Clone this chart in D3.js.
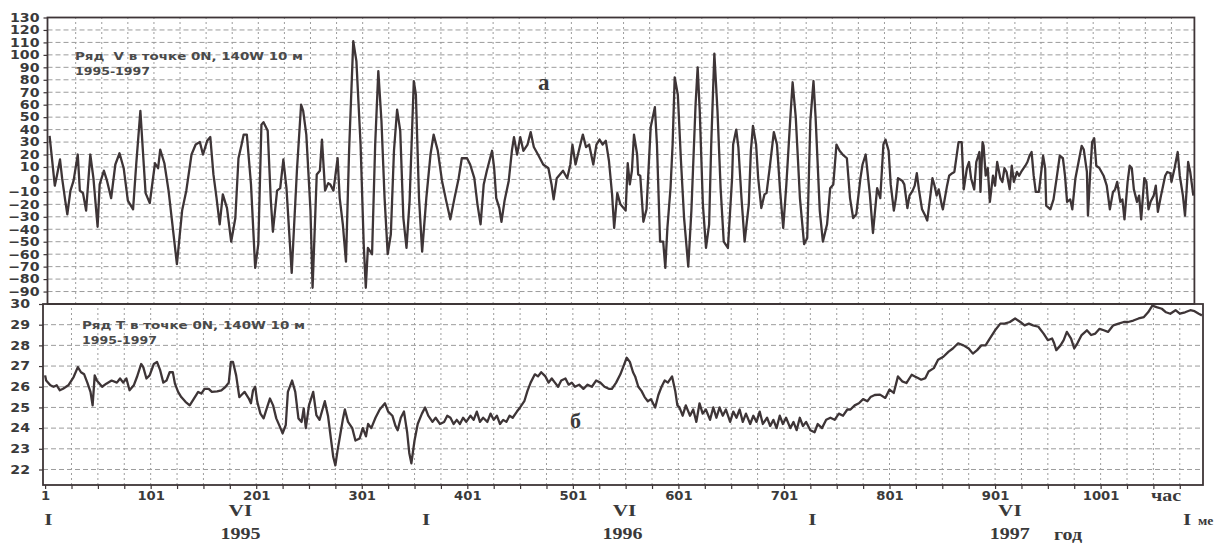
<!DOCTYPE html>
<html><head><meta charset="utf-8">
<script src="https://cdn.jsdelivr.net/npm/d3@7"></script>
<style>body{margin:0;background:#fff;} svg{display:block;} text{white-space:pre;}</style>
</head><body>
<svg id="c" width="1214" height="556"></svg>
<script>
// ---- data: [day index, value] ----
const vPoints = [[1,35],[6,-5],[8,3],[11,16],[13,1],[16,-17],[18,-28],[21,-9],[24,-1],[28,20],[30,-9],[33,-11],[36,-25],[40,20],[43,1],[47,-38],[49,-4],[53,7],[56,-1],[60,-15],[64,12],[68,21],[72,9],[76,-17],[81,-24],[84,12],[88,55],[91,15],[93,-11],[97,-19],[102,13],[105,9],[107,24],[111,13],[115,-9],[118,-31],[123,-68],[128,-25],[132,-9],[137,20],[141,28],[145,30],[148,20],[152,31],[155,34],[158,4],[161,-15],[164,-36],[167,-12],[171,-23],[175,-50],[179,-31],[182,17],[185,28],[187,36],[190,36],[194,-4],[198,-71],[201,-52],[204,44],[206,46],[210,39],[213,-17],[215,-42],[219,-9],[222,-7],[225,16],[228,-7],[233,-75],[238,7],[242,60],[244,55],[247,36],[251,-25],[253,-87],[257,4],[260,7],[262,32],[265,-9],[268,-3],
[270,-4],[273,-9],[277,17],[279,-15],[282,-36],[285,-66],[288,23],[292,111],[295,95],[299,28],[302,-52],[304,-87],[306,-55],[310,-60],[313,28],[316,87],[319,47],[322,-15],[325,-60],[328,-44],[331,23],[334,56],[337,39],[340,-31],[343,-55],[346,-17],[350,79],[352,68],[355,-15],[358,-58],[362,-15],[366,20],[369,36],[373,23],[377,-1],[381,-17],[385,-32],[389,-15],[393,1],[396,17],[401,17],[404,12],[408,1],[411,-20],[414,-36],[417,-4],[420,7],[425,23],[427,9],[429,-15],[432,-23],[434,-34],[437,-17],[441,-1],[444,23],[446,34],[449,20],[452,34],[455,23],[459,28],[462,38],[465,26],[469,20],[474,12],[479,9],[482,-4],[484,-16],[487,1],[490,4],[493,7],[497,1],[500,12],[502,28],[505,12],[509,26],[512,36],[515,26],[518,28],[522,12],[525,28],[528,32],[531,28],[534,31],[537,15],[540,-12],[542,-39],[545,-11],[548,-20],
[551,-23],[553,-25],[555,13],[557,-4],[559,7],[561,36],[564,20],[565,4],[567,3],[570,-34],[573,-24],[577,42],[581,58],[583,28],[586,-50],[589,-50],[591,-71],[593,-39],[596,-7],[598,28],[600,82],[603,68],[606,15],[609,-31],[613,-70],[616,-25],[620,60],[622,90],[624,55],[627,-20],[630,-55],[633,-36],[635,28],[638,101],[641,55],[644,-7],[647,-50],[651,-55],[655,1],[656,28],[659,40],[661,26],[664,-15],[667,-50],[671,-20],[673,23],[675,43],[678,28],[680,1],[683,-23],[686,-12],[688,-11],[691,9],[695,38],[698,28],[701,-9],[704,-39],[707,-4],[711,52],[713,78],[716,50],[720,-15],[724,-52],[727,-47],[730,47],[733,79],[735,50],[739,-25],[742,-50],[746,-36],[749,-7],[752,-4],[755,28],[758,23],[761,20],[765,17],[768,-15],[771,-31],[774,-28],[778,1],[780,12],[783,20],[787,-12],[790,-43],[794,-7],[797,-15],[800,28],[802,32],[805,23],[807,-4],[810,-25],[812,-15],[814,1],[818,-1],[820,-4],[823,-23],
[825,-13],[828,-9],[830,-5],[832,5],[834,-8],[837,-24],[840,-29],[842,-33],[845,-13],[847,1],[849,-5],[851,-13],[853,-8],[856,-21],[857,-24],[861,-5],[863,3],[866,5],[868,6],[872,30],[875,30],[877,-8],[880,9],[882,14],[884,1],[887,-8],[889,14],[892,22],[893,-10],[895,30],[896,27],[898,3],[900,9],[902,-18],[905,3],[907,-5],[909,14],[912,1],[914,-2],[916,9],[918,6],[921,-8],[923,11],[925,-2],[928,6],[930,3],[932,6],[936,11],[938,14],[940,19],[942,22],[944,3],[946,-10],[949,-10],[953,19],[955,9],[956,-21],[960,-24],[963,-16],[966,1],[969,19],[972,17],[974,3],[976,-18],[979,-16],[981,-24],[984,1],[987,14],[990,27],[992,24],[995,6],[996,-29],[998,3],[1000,30],[1002,33],[1004,11],[1007,9],[1011,3],[1014,-5],[1017,-24],[1020,-10],[1022,-8],[1024,-2],[1027,-18],[1029,-16],[1031,-32],[1034,-2],[1036,11],[1038,9],[1040,-8],[1043,-18],[1045,-13],[1047,-32],[1050,1],[1052,-2],[1054,-24],[1056,-18],[1059,-13],[1061,-5],[1063,-26],[1066,-13],[1068,-5],[1070,3],[1072,6],[1075,5],[1076,-2],[1079,9],[1082,22],[1084,3],[1087,-13],[1089,-29],[1091,-2],[1092,14],[1094,6],[1097,-13]];

const tPoints = [[1,26.55],[2,26.3],[6,26.07],[9,26.0],[12,26.07],[15,25.83],[18,25.9],[23,26.07],[28,26.47],[32,26.95],[35,26.7],[38,26.6],[41,26.2],[44,25.75],[46,25.1],[48,26.55],[50,26.3],[55,26.0],[59,26.15],[64,26.3],[69,26.2],[72,26.4],[75,26.2],[78,26.4],[81,25.83],[85,26.07],[88,26.47],[92,27.1],[94,26.95],[97,26.4],[100,26.55],[104,27.1],[107,27.2],[110,26.8],[113,26.2],[116,26.3],[119,26.7],[122,26.7],[124,26.15],[127,25.75],[130,25.5],[134,25.27],[138,25.1],[142,25.43],[146,25.75],[149,25.67],[152,25.9],[156,25.9],[159,25.75],[164,25.78],[168,25.83],[172,26.0],[175,26.2],[177,27.2],[179,27.2],[182,26.55],[185,25.5],[187,25.6],[190,25.75],[194,25.43],[196,25.2],[198,25.83],[200,26.0],[202,25.27],[205,24.7],[208,24.47],[211,24.95],[214,25.43],[217,25.1],[220,24.47],[224,24.0],[226,23.75],[229,24.15],[231,25.75],[235,26.3],[238,25.75],[241,24.47],[244,24.3],[246,24.95],[248,24.0],[251,25.1],[255,25.75],[258,24.63],[261,24.4],
[266,25.3],[269,24.6],[271,23.8],[274,22.6],[276,22.2],[278,22.9],[280,23.5],[283,24.4],[285,24.9],[288,24.3],[292,24.0],[295,23.4],[299,23.5],[302,24.0],[305,23.6],[307,24.2],[310,24.0],[314,24.5],[318,24.9],[323,25.2],[326,24.8],[330,24.6],[333,24.1],[335,23.9],[338,24.5],[341,24.8],[344,23.8],[346,22.8],[348,22.3],[351,23.4],[354,24.2],[358,24.7],[361,25.0],[364,24.6],[368,24.3],[371,24.5],[375,24.2],[379,24.3],[382,24.6],[385,24.5],[388,24.2],[391,24.4],[394,24.2],[397,24.5],[400,24.3],[404,24.6],[407,24.4],[410,24.8],[413,24.3],[416,24.5],[420,24.3],[423,24.7],[426,24.4],[429,24.6],[432,24.2],[435,24.4],[438,24.3],[441,24.6],[444,24.5],[448,24.8],[451,25.0],[455,25.3],[458,25.8],[461,26.2],[465,26.6],[468,26.5],[471,26.7],[475,26.5],[478,26.2],[481,26.4],[484,26.2],[487,26.0],[490,26.3],[494,26.4],[497,26.1],[500,26.2],[503,26.0],[507,26.1],[511,25.9],[515,26.1],[519,26.0],[523,26.3],[527,26.2],[531,26.0],[535,25.9],[538,25.9],[542,26.2],[546,26.6],[549,27.0],[552,27.4],[555,27.2],[558,26.7],[560,26.5],[563,26.0],[566,25.8],[569,25.5],[572,25.3],[575,25.4],[579,25.0],[582,25.6],[585,26.0],[588,26.3],[591,26.2],[595,26.5],[598,25.8],[600,25.1],[602,25.0],[605,24.6],[608,25.1],[612,24.6],[615,24.9],[618,24.3],[621,25.2],[624,24.7],[627,24.9],[631,24.4],[634,25.0],[637,24.5],[640,25.0],[643,24.6],[646,24.9],[650,24.3],[653,24.8],[656,24.5],[659,24.9],[662,24.3],[665,24.7],[669,24.2],[672,24.6],[675,24.3],[678,24.8],[681,24.2],[685,24.5],[688,24.1],[691,24.4],[694,24.0],[697,24.6],[700,24.2],[703,24.5],[707,24.0],[710,24.3],[713,23.9],[716,24.5],[719,24.1],[722,24.3],[726,23.9],[730,23.8],[733,24.2],[737,24.0],[741,24.4],[745,24.5],[749,24.4],[753,24.7],[757,24.6],[761,24.9],[764,24.9],[768,25.1],[772,25.2],[776,25.4],[780,25.3],[783,25.5],[787,25.6],
[792,25.62],[797,25.46],[801,25.86],[805,25.7],[809,26.5],[813,26.26],[817,26.18],[822,26.58],[825,26.5],[828,26.42],[831,26.34],[835,26.42],[838,26.74],[843,26.9],[847,27.3],[852,27.45],[857,27.7],[861,27.85],[866,28.1],[871,28.0],[876,27.85],[880,27.6],[884,27.77],[888,28.0],[892,28.0],[896,28.33],[901,28.73],[906,29.05],[910,29.05],[915,29.13],[920,29.3],[925,29.13],[929,28.97],[933,29.05],[937,28.97],[942,28.9],[947,28.57],[951,28.25],[955,28.33],[957,28.1],[959,27.77],[963,28.0],[966,28.25],[969,28.65],[973,28.33],[976,27.85],[979,28.1],[983,28.5],[988,28.73],[992,28.5],[996,28.57],[1000,28.8],[1004,28.73],[1008,28.65],[1013,28.97],[1018,29.05],[1023,29.13],[1027,29.13],[1032,29.2],[1037,29.3],[1042,29.37],[1046,29.6],[1050,29.92],[1054,29.85],[1059,29.77],[1063,29.6],[1067,29.53],[1072,29.7],[1076,29.53],[1081,29.6],[1086,29.7],[1090,29.65],[1094,29.53],[1097,29.45]];

const vTickValues = [-90,-80,-70,-60,-50,-40,-30,-20,-10,0,10,20,30,40,50,60,70,80,90,100,110,120,130];
const tTickValues = [22,23,24,25,26,27,28,29,30];
const dayLabelValues = [1,101,201,301,401,501,601,701,801,901,1001];
const monthLabels = ["I","VI","I","VI","I","VI","I"];
const monthDays = [4,186,362,550,728,915,1083];
const yearLabels = ["1995","1996","1997"];
const yearDays = [186,548,915];
const vTitle = ["Ряд  V в точке 0N, 140W 10 м", "1995-1997"];
const tTitle = ["Ряд T в точке 0N, 140W 10 м", "1995-1997"];

// ---- scales ----
const xTop = d3.scaleLinear().domain([-1,1098]).range([47.5,1194.4]);
const xBot = d3.scaleLinear().domain([-1,1098]).range([43,1203]);
const yV = d3.scaleLinear().domain([-100,130]).range([304,17.5]);
const yT = d3.scaleLinear().domain([21.25,30]).range([485,304]);
const gridDays = d3.range(26,1098,25);
const tickDays = d3.range(1,1098,25);

const svg = d3.select("#c");
const INK = "#3e3537", GRID = "#9c9c9c", TXT = "#3a3a3a";
const sans = "'DejaVu Sans', sans-serif", serif = "'Liberation Serif', 'Times New Roman', serif";

// grids
function grid(x, y, hVals, x0, x1, y0, y1){
  const g = svg.append("g");
  g.selectAll("line.h").data(hVals).join("line")
    .attr("x1", x(x0)).attr("x2", x(x1)).attr("y1", d=>y(d)).attr("y2", d=>y(d))
    .attr("stroke", GRID).attr("stroke-width",1).attr("stroke-dasharray","5,3");
  g.selectAll("line.v").data(gridDays).join("line")
    .attr("x1", d=>x(d)).attr("x2", d=>x(d)).attr("y1", y(y0)).attr("y2", y(y1))
    .attr("stroke", GRID).attr("stroke-width",1).attr("stroke-dasharray","2,3");
}
grid(xTop, yV, d3.range(-90,121,10), -1, 1098, -100, 130);
grid(xBot, yT, d3.range(22,30,1), -1, 1098, 21.25, 30);

// frames
svg.append("rect").attr("x", xTop(-1)).attr("y", yV(130)).attr("width", xTop(1098)-xTop(-1)).attr("height", yV(-100)-yV(130))
  .attr("fill","none").attr("stroke", INK).attr("stroke-width",1.8);
svg.append("rect").attr("x", xBot(-1)).attr("y", yT(30)).attr("width", xBot(1098)-xBot(-1)).attr("height", yT(21.25)-yT(30))
  .attr("fill","none").attr("stroke", INK).attr("stroke-width",1.8);

// axes
function styleAxis(g){
  g.select(".domain").remove();
  g.selectAll(".tick line").attr("stroke", INK).attr("stroke-width",1.2);
  g.selectAll("text").attr("font-family", sans).attr("font-weight","bold").attr("font-size","12px").attr("fill", TXT);
}
const axV = svg.append("g").attr("transform",`translate(${xTop(-1)},0)`)
  .call(d3.axisLeft(yV).tickValues(vTickValues).tickSize(4));
styleAxis(axV);
axV.selectAll("text").attr("x", null).attr("transform","translate(-8,0) scale(1.18,1)");

const axT = svg.append("g").attr("transform",`translate(${xBot(-1)},0)`)
  .call(d3.axisLeft(yT).tickValues(tTickValues).tickSize(4));
styleAxis(axT);
axT.selectAll("text").attr("x", null).attr("transform","translate(-13,0) scale(1.18,1)");

const labelSet = new Set(dayLabelValues);
const axX = svg.append("g").attr("transform",`translate(0,${yT(21.25)})`)
  .call(d3.axisBottom(xBot).tickValues(tickDays).tickSize(4).tickFormat(d => labelSet.has(d) ? String(d) : ""));
styleAxis(axX);
axX.selectAll("text").attr("y", null).attr("dy", null).attr("transform","translate(0,15) scale(1.1,1)");

// series
const line = (x, y) => d3.line().x(d=>x(d[0])).y(d=>y(d[1]));
svg.append("path").datum(vPoints).attr("d", line(xTop,yV))
  .attr("fill","none").attr("stroke", INK).attr("stroke-width",2.3).attr("stroke-linejoin","round");
svg.append("path").datum(tPoints).attr("d", line(xBot,yT))
  .attr("fill","none").attr("stroke", INK).attr("stroke-width",2.3).attr("stroke-linejoin","round");

// titles inside panels
function title(lines, x, y0, lens){
  lines.forEach((t,i)=>{
    svg.append("text").attr("x", x).attr("y", y0 + i*15).text(t)
      .attr("font-family", sans).attr("font-weight","bold").attr("font-size","11px").attr("fill","#4a4a4a")
      .attr("textLength", lens[i]).attr("lengthAdjust","spacingAndGlyphs");
  });
}
title(vTitle, 75, 60, [228, 75]);
title(tTitle, 82, 329, [223, 75]);

svg.append("text").attr("x", 538).attr("y", 90).text("а")
  .attr("font-family", serif).attr("font-weight","bold").attr("font-size","23px").attr("fill", TXT);
svg.append("text").attr("x", 570).attr("y", 428).text("б")
  .attr("font-family", serif).attr("font-weight","bold").attr("font-size","22px").attr("fill", TXT);

// month / year labels
const bottomText = (t, x, y, size) => svg.append("text").attr("transform",`translate(${x},${y}) scale(1.25,1)`)
  .attr("text-anchor","middle").text(t)
  .attr("font-family", serif).attr("font-weight","bold").attr("font-size", size).attr("fill", TXT);
monthLabels.forEach((m,i)=> bottomText(m, xBot(monthDays[i]), m === "I" ? 525 : 516, "17px"));
yearLabels.forEach((yv,i)=> bottomText(yv, xBot(yearDays[i]), 539, "16px"));
bottomText("год", 1068, 540, "16px");
bottomText("час", 1166, 501, "16px");
svg.append("text").attr("transform","translate(1198,525) scale(1.05,1)").text("ме")
  .attr("font-family", serif).attr("font-weight","bold").attr("font-size","13px").attr("fill", TXT);
</script>
</body></html>
